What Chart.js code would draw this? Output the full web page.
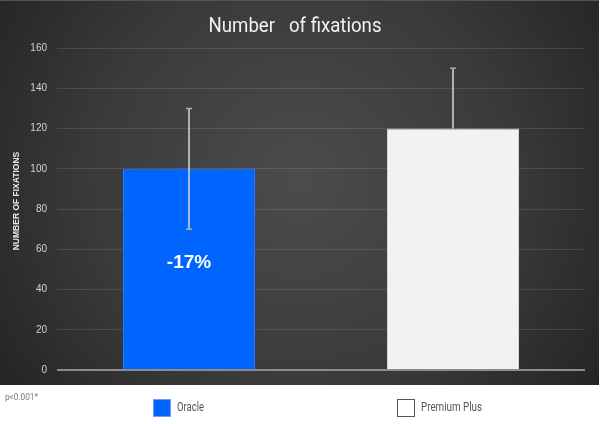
<!DOCTYPE html>
<html>
<head>
<meta charset="utf-8">
<script src="https://cdn.jsdelivr.net/npm/chart.js@4"></script>
<style>
  html, body { margin: 0; padding: 0; background: #ffffff; }
  #wrap { width: 600px; height: 424px; }
</style>
</head>
<body>
<div id="wrap"><canvas id="chart" width="600" height="424"></canvas></div>
<script>
const categories = ['Oracle', 'Premium Plus'];
const fixations = [100, 120];
const errorPlus = [30, 30];
const errorMinus = [30, 0];
const yTicks = [0, 20, 40, 60, 80, 100, 120, 140, 160];
const barColors = ['#0064ff', '#f2f2f2'];
const barBorders = ['#2a78ff', '#d4d4d4'];
const legendFill = ['#0064ff', '#ffffff'];
const legendBorders = ['#6f9cf0', '#555555'];

const BASE_FONT = '"Roboto", "Liberation Sans", Arial, sans-serif';

// draws text squeezed horizontally to a given width (the original uses a condensed face)
function narrowText(ctx, text, x, y, width, align) {
  const w = ctx.measureText(text).width;
  const k = Math.min(1, width / w);
  ctx.save();
  ctx.translate(x, y);
  ctx.scale(k, 1);
  ctx.textAlign = align;
  ctx.fillText(text, 0, 0);
  ctx.restore();
}

const panelPlugin = {
  id: 'panel',
  beforeDraw(chart) {
    const { ctx } = chart;
    ctx.save();
    ctx.fillStyle = '#ffffff';
    ctx.fillRect(0, 0, chart.width, chart.height);
    const grad = ctx.createRadialGradient(300, 180, 0, 300, 180, 380);
    grad.addColorStop(0, '#4c4c4c');
    grad.addColorStop(0.55, '#3a3a3a');
    grad.addColorStop(1, '#222222');
    ctx.fillStyle = grad;
    ctx.fillRect(0, 0, 599, 385);
    ctx.fillStyle = '#555555';
    ctx.fillRect(0, 0, 599, 1);
    ctx.restore();
  },
  afterDraw(chart) {
    const { ctx } = chart;
    ctx.save();
    ctx.textBaseline = 'alphabetic';
    ctx.fillStyle = '#f2f2f2';
    ctx.font = '20px ' + BASE_FONT;
    narrowText(ctx, 'Number   of fixations', 295, 32, 173, 'center');

    ctx.fillStyle = '#e6e6e6';
    ctx.font = 'bold 8.5px "Liberation Sans", Arial, sans-serif';
    ctx.save();
    ctx.translate(19, 201);
    ctx.rotate(-Math.PI / 2);
    ctx.textAlign = 'center';
    ctx.fillText('NUMBER OF FIXATIONS', 0, 0);
    ctx.restore();

    ctx.fillStyle = '#777777';
    ctx.font = '9px ' + BASE_FONT;
    ctx.textBaseline = 'middle';
    narrowText(ctx, 'p<0.001*', 5, 398, 33, 'left');

    const legendX = [153, 397];
    const legendTextW = [27, 61];
    categories.forEach((label, i) => {
      const x = legendX[i];
      ctx.fillStyle = legendFill[i];
      ctx.fillRect(x, 399, 18, 18);
      ctx.strokeStyle = legendBorders[i];
      ctx.lineWidth = 1;
      ctx.strokeRect(x + 0.5, 399.5, 17, 17);
      ctx.fillStyle = '#555555';
      ctx.font = '12.5px ' + BASE_FONT;
      narrowText(ctx, label, x + 24, 408, legendTextW[i], 'left');
    });
    ctx.restore();
  },
};

const errorBarPlugin = {
  id: 'errorBars',
  afterDatasetsDraw(chart) {
    const { ctx, scales } = chart;
    const meta = chart.getDatasetMeta(0);
    ctx.save();
    meta.data.forEach((bar, i) => {
      const v = fixations[i];
      const yTop = scales.y.getPixelForValue(v + errorPlus[i]);
      const yBot = scales.y.getPixelForValue(v - errorMinus[i]);
      ctx.strokeStyle = '#d8d8d8';
      ctx.lineWidth = 1.5;
      ctx.beginPath();
      ctx.moveTo(bar.x, yTop);
      ctx.lineTo(bar.x, yBot);
      ctx.stroke();
      ctx.strokeStyle = '#aaaaaa';
      ctx.beginPath();
      ctx.moveTo(bar.x - 3, yTop);
      ctx.lineTo(bar.x + 3, yTop);
      if (errorMinus[i] > 0) {
        ctx.moveTo(bar.x - 3, yBot);
        ctx.lineTo(bar.x + 3, yBot);
      }
      ctx.stroke();
    });

    // relative difference label inside the first bar
    const first = meta.data[0];
    const diff = Math.round((fixations[0] / fixations[1] - 1) * 100);
    ctx.fillStyle = '#ffffff';
    ctx.font = 'bold 19px "Liberation Sans", Arial, sans-serif';
    ctx.textAlign = 'center';
    ctx.textBaseline = 'middle';
    ctx.fillText(`${diff}%`, first.x, (first.y + first.base) / 2 - 6);
    ctx.restore();
  },
};

new Chart(document.getElementById('chart').getContext('2d'), {
  type: 'bar',
  data: {
    labels: categories,
    datasets: [
      {
        label: 'Number of fixations',
        data: fixations,
        backgroundColor: barColors,
        borderColor: barBorders,
        borderWidth: 1,
        barPercentage: 0.5,
        categoryPercentage: 1.0,
      },
    ],
  },
  options: {
    responsive: false,
    animation: false,
    devicePixelRatio: 1,
    layout: { padding: { left: 0, right: 15, top: 48, bottom: 54 } },
    plugins: {
      legend: { display: false },
      tooltip: { enabled: false },
      title: { display: false },
    },
    scales: {
      x: { display: false },
      y: {
        min: 0,
        max: 160,
        afterBuildTicks: (scale) => {
          scale.ticks = yTicks.map((value) => ({ value }));
        },
        afterFit: (scale) => {
          scale.width = 57;
        },
        border: { display: false },
        grid: {
          drawTicks: false,
          color: (c) => (c.tick.value === 0 ? '#8c8c8c' : 'rgba(255,255,255,0.11)'),
          lineWidth: (c) => (c.tick.value === 0 ? 2 : 1),
        },
        ticks: {
          padding: 10,
          color: '#d4d4d4',
          font: { family: '"Liberation Sans", Arial, sans-serif', size: 10 },
        },
      },
    },
  },
  plugins: [panelPlugin, errorBarPlugin],
});
</script>
</body>
</html>
